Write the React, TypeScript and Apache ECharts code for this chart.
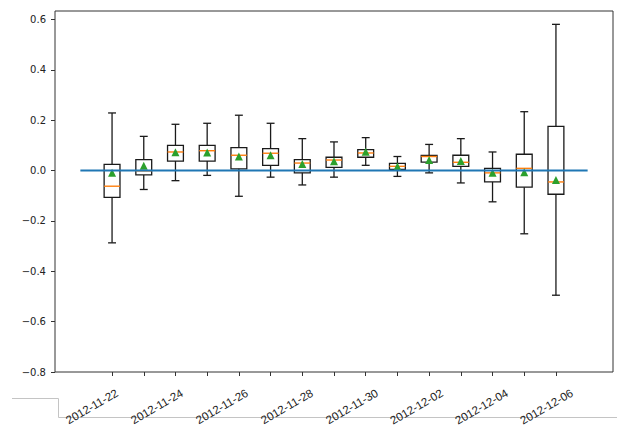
import React, { useEffect, useRef } from 'react';
import * as echarts from 'echarts';

const dates = [
  '2012-11-22', '2012-11-23', '2012-11-24', '2012-11-25', '2012-11-26',
  '2012-11-27', '2012-11-28', '2012-11-29', '2012-11-30', '2012-12-01',
  '2012-12-02', '2012-12-03', '2012-12-04', '2012-12-05', '2012-12-06',
];
const whiskerLow = [-0.287, -0.075, -0.040, -0.019, -0.102, -0.026, -0.057, -0.026, 0.021, -0.023, -0.009, -0.049, -0.124, -0.251, -0.495];
const q1 = [-0.106, -0.017, 0.038, 0.038, 0.007, 0.021, -0.009, 0.013, 0.053, 0.005, 0.034, 0.017, -0.045, -0.066, -0.094];
const median = [-0.062, -0.001, 0.074, 0.079, 0.061, 0.069, 0.030, 0.042, 0.070, 0.017, 0.056, 0.033, -0.009, 0.009, -0.045];
const q3 = [0.025, 0.044, 0.100, 0.100, 0.091, 0.087, 0.044, 0.053, 0.083, 0.029, 0.060, 0.061, 0.009, 0.065, 0.176];
const whiskerHigh = [0.229, 0.136, 0.184, 0.188, 0.220, 0.188, 0.127, 0.114, 0.131, 0.056, 0.104, 0.127, 0.074, 0.234, 0.581];
const means = [-0.009, 0.019, 0.073, 0.072, 0.056, 0.061, 0.026, 0.037, 0.075, 0.016, 0.042, 0.038, -0.009, -0.007, -0.037];
const yMin = -0.8;
const yMax = 0.634;
const yStep = 0.2;
const zeroLineX = [0, 16];
const zeroLineY = [0, 0];

export default function App() {
  const ref = useRef<HTMLDivElement>(null);
  useEffect(() => {
    if (!ref.current) return;
    const chart = echarts.init(ref.current, undefined, { renderer: 'svg' });

    const labelDates = dates.filter((_, i) => i % 2 === 0);
    const boxData = dates.map((_, i) => [i, whiskerLow[i], q1[i], median[i], q3[i], whiskerHigh[i]]);
    const dark = '#1a1a1a';
    const frame = '#333333';

    const isTick = (v: number) => Math.abs(v / yStep - Math.round(v / yStep)) < 1e-6;

    chart.setOption({
      animation: false,
      backgroundColor: '#ffffff',
      grid: [
        { left: 55, right: 4, top: 11, bottom: 55, show: true, borderColor: frame, borderWidth: 1, backgroundColor: 'transparent' },
        { left: 96.2, right: 45.2, top: 11, bottom: 55, show: false },
        { left: 84.5, right: 12.5, top: 11, bottom: 55, show: false },
      ],
      xAxis: [
        {
          type: 'value', min: -0.8, max: 16.8, gridIndex: 0, show: false,
          axisLine: { show: false, onZero: false }, splitLine: { show: false },
        },
        {
          type: 'category', gridIndex: 1, data: dates, boundaryGap: true, position: 'bottom',
          axisLine: { show: false, onZero: false },
          splitLine: { show: false },
          axisTick: { show: true, alignWithLabel: true, interval: 0, length: 4, lineStyle: { color: frame, width: 1 } },
          axisLabel: { show: false },
        },
        {
          type: 'category', gridIndex: 2, data: labelDates, boundaryGap: true, show: false,
          axisLine: { show: false, onZero: false },
        },
      ],
      yAxis: [
        {
          type: 'value', min: yMin, max: yMax, interval: yStep, gridIndex: 0,
          axisLine: { show: false, onZero: false },
          splitLine: { show: false },
          axisTick: { show: true, length: 4, lineStyle: { color: frame, width: 1 } },
          axisLabel: {
            show: true, margin: 9, showMaxLabel: false,
            fontFamily: 'DejaVu Sans', fontSize: 10, color: '#222222',
            formatter: (v: number) => (isTick(v) ? Number(v).toFixed(1).replace('-', '\u2212') : ''),
          },
        },
        { type: 'value', min: yMin, max: yMax, gridIndex: 1, show: false, axisLine: { onZero: false } },
        { type: 'value', min: yMin, max: yMax, gridIndex: 2, show: false, axisLine: { onZero: false } },
      ],
      graphic: [
        { type: 'line', z: 0, shape: { x1: 12, y1: 398.5, x2: 58.5, y2: 398.5 }, style: { stroke: '#c4c4c4', lineWidth: 1 } },
        { type: 'line', z: 0, shape: { x1: 58.5, y1: 398.5, x2: 58.5, y2: 417.5 }, style: { stroke: '#c4c4c4', lineWidth: 1 } },
        { type: 'line', z: 0, shape: { x1: 58.5, y1: 417.5, x2: 617, y2: 417.5 }, style: { stroke: '#c4c4c4', lineWidth: 1 } },
      ],
      series: [
        {
          type: 'custom',
          xAxisIndex: 1,
          yAxisIndex: 1,
          z: 2,
          data: boxData,
          encode: { x: 0, y: [1, 2, 3, 4, 5] },
          renderItem: (params: any, api: any) => {
            const x = api.value(0);
            const pLow = api.coord([x, api.value(1)]);
            const pQ1 = api.coord([x, api.value(2)]);
            const pMed = api.coord([x, api.value(3)]);
            const pQ3 = api.coord([x, api.value(4)]);
            const pHigh = api.coord([x, api.value(5)]);
            const cx = pLow[0];
            const halfBox = api.size([1, 0])[0] / 4;
            const halfCap = halfBox / 2;
            const ls = { stroke: dark, lineWidth: 1.3, fill: 'none' };
            return {
              type: 'group',
              children: [
                { type: 'line', shape: { x1: cx, y1: pLow[1], x2: cx, y2: pQ1[1] }, style: ls },
                { type: 'line', shape: { x1: cx, y1: pQ3[1], x2: cx, y2: pHigh[1] }, style: ls },
                { type: 'line', shape: { x1: cx - halfCap, y1: pLow[1], x2: cx + halfCap, y2: pLow[1] }, style: ls },
                { type: 'line', shape: { x1: cx - halfCap, y1: pHigh[1], x2: cx + halfCap, y2: pHigh[1] }, style: ls },
                { type: 'rect', shape: { x: cx - halfBox, y: pQ3[1], width: halfBox * 2, height: pQ1[1] - pQ3[1] }, style: ls },
                { type: 'line', shape: { x1: cx - halfBox, y1: pMed[1], x2: cx + halfBox, y2: pMed[1] }, style: { stroke: '#ff7f0e', lineWidth: 1.4 } },
              ],
            };
          },
        },
        {
          type: 'scatter',
          xAxisIndex: 1,
          yAxisIndex: 1,
          z: 3,
          symbol: 'triangle',
          symbolSize: [8, 8],
          itemStyle: { color: '#2ca02c', opacity: 1 },
          data: means.map((m, i) => [i, m]),
        },
        {
          type: 'line',
          xAxisIndex: 0,
          yAxisIndex: 0,
          z: 4,
          showSymbol: false,
          symbol: 'none',
          lineStyle: { color: '#1f77b4', width: 2 },
          data: zeroLineX.map((x, i) => [x, zeroLineY[i]]),
        },
        {
          type: 'custom',
          xAxisIndex: 2,
          yAxisIndex: 2,
          z: 5,
          clip: false,
          silent: true,
          data: labelDates.map((d, k) => [k, yMin]),
          encode: { x: 0, y: 1 },
          renderItem: (params: any, api: any) => {
            const p = api.coord([api.value(0), api.value(1)]);
            return {
              type: 'text',
              x: p[0],
              y: p[1] + 20,
              rotation: Math.PI / 6,
              style: {
                text: labelDates[params.dataIndex],
                align: 'right',
                verticalAlign: 'middle',
                fontFamily: 'Liberation Sans',
                fontSize: 11.5,
                fill: '#222222',
              },
            };
          },
        },
      ],
    });
    return () => chart.dispose();
  }, []);

  return (
    <div
      ref={ref}
      style={{ position: 'absolute', left: 0, top: 0, width: 617, height: 427, background: '#fff' }}
    />
  );
}
